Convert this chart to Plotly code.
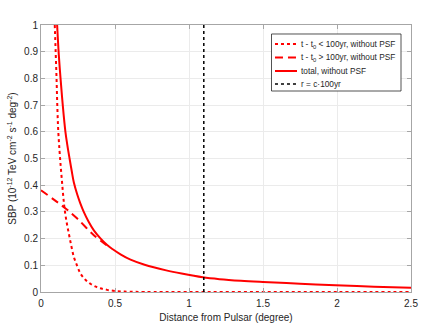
import plotly.graph_objects as go

# ---- Data ----
x_early = [0.093, 0.099, 0.105, 0.110, 0.116, 0.125, 0.134, 0.143, 0.151, 0.159, 0.173, 0.188, 0.205,
           0.222, 0.245, 0.267, 0.300, 0.334, 0.370, 0.400, 0.447, 0.500, 0.550, 0.600, 0.700, 1.0, 1.5, 2.0, 2.5]
y_early = [1.0, 0.90, 0.80, 0.70, 0.61, 0.53, 0.465, 0.406, 0.355, 0.313, 0.262, 0.219, 0.172,
           0.131, 0.097, 0.069, 0.046, 0.031, 0.020, 0.014, 0.008, 0.004, 0.002, 0.001, 0.0, 0.0, 0.0, 0.0, 0.0]

x_late = [0.0, 0.087, 0.166, 0.245, 0.357, 0.458]
y_late = [0.381, 0.346, 0.313, 0.275, 0.213, 0.169]

x_total = [0.109, 0.120, 0.132, 0.147, 0.165, 0.178, 0.193, 0.207, 0.222, 0.245, 0.265, 0.289, 0.320,
           0.357, 0.400, 0.447, 0.485, 0.540, 0.605, 0.700, 0.846, 0.950, 1.093, 1.206, 1.350, 1.500,
           1.750, 1.990, 2.250, 2.500]
y_total = [1.0, 0.89, 0.80, 0.70, 0.60, 0.55, 0.50, 0.455, 0.410, 0.365, 0.333, 0.300, 0.265,
           0.231, 0.202, 0.176, 0.160, 0.140, 0.121, 0.102, 0.081, 0.069, 0.055, 0.048, 0.042, 0.0375,
           0.031, 0.025, 0.020, 0.0163]

r_c100 = 1.1
vline_y = [0, 1]

x_ticks = [0, 0.5, 1, 1.5, 2, 2.5]
x_ticklabels = ["0", "0.5", "1", "1.5", "2", "2.5"]
y_ticks = [0, 0.1, 0.2, 0.3, 0.4, 0.5, 0.6, 0.7, 0.8, 0.9, 1]
y_ticklabels = ["0", "0.1", "0.2", "0.3", "0.4", "0.5", "0.6", "0.7", "0.8", "0.9", "1"]

legend_labels = ["t - t<sub>0</sub> < 100yr, without PSF",
                 "t - t<sub>0</sub> > 100yr, without PSF",
                 "total, without PSF",
                 "r = c·100yr"]

RED = "#ff0000"
FONT = "Liberation Sans, Arial, Helvetica, sans-serif"
styles = [dict(color=RED, width=2, dash="dot"),
          dict(color=RED, width=2, dash="8px,5px"),
          dict(color=RED, width=2),
          dict(color="#000000", width=1.5, dash="dot")]

fig = go.Figure()
fig.add_trace(go.Scatter(x=x_early, y=y_early, mode="lines", name=legend_labels[0],
                         line=dict(shape="spline", smoothing=1, **styles[0]), showlegend=False))
fig.add_trace(go.Scatter(x=x_late, y=y_late, mode="lines", name=legend_labels[1],
                         line=dict(shape="spline", smoothing=1, **styles[1]), showlegend=False))
fig.add_trace(go.Scatter(x=x_total, y=y_total, mode="lines", name=legend_labels[2],
                         line=dict(shape="spline", smoothing=1, **styles[2]), showlegend=False))
fig.add_trace(go.Scatter(x=[r_c100, r_c100], y=vline_y, mode="lines", name=legend_labels[3],
                         line=styles[3], showlegend=False))

axis_common = dict(showline=True, linecolor="#a6a6a6", linewidth=1, mirror="ticks",
                   ticks="inside", ticklen=4, tickcolor="#a6a6a6", automargin=False,
                   showgrid=True, gridcolor="#ebebeb", gridwidth=1, zeroline=False,
                   tickfont=dict(family=FONT, size=10, color="#262626"))

# Custom legend box (paper coordinates)
box_x0, box_x1, box_y0, box_y1 = 0.623, 0.973, 0.7528, 0.9663
row_y = [0.9288, 0.8783, 0.8277, 0.7790]
sample_x0, sample_x1, text_x = 0.6324, 0.6919, 0.6960

shapes = [dict(type="rect", xref="paper", yref="paper", x0=box_x0, x1=box_x1, y0=box_y0, y1=box_y1,
               line=dict(color="#262626", width=0.8), fillcolor="white", layer="above")]
annotations = []
for lab, st, yy in zip(legend_labels, styles, row_y):
    shapes.append(dict(type="line", xref="paper", yref="paper", x0=sample_x0, x1=sample_x1,
                       y0=yy, y1=yy, line=st, layer="above"))
    annotations.append(dict(xref="paper", yref="paper", x=text_x, y=yy, text=lab, showarrow=False,
                            xanchor="left", yanchor="middle",
                            font=dict(family=FONT, size=8.3, color="#262626")))

fig.update_layout(
    width=436, height=327,
    margin=dict(l=41, r=25, t=25, b=35, autoexpand=False),
    paper_bgcolor="white", plot_bgcolor="white",
    font=dict(family=FONT, size=10, color="#262626"),
    xaxis=dict(range=[0, 2.5], tickvals=x_ticks, ticktext=x_ticklabels, ticklabelstandoff=2,
               title=dict(text="Distance from Pulsar (degree)", font=dict(size=10), standoff=5),
               **axis_common),
    yaxis=dict(range=[0, 1], tickvals=y_ticks, ticktext=y_ticklabels,
               title=dict(text="SBP (10<sup>-12</sup> TeV cm<sup>-2</sup> s<sup>-1</sup> deg<sup>-2</sup>)",
                          font=dict(size=10), standoff=5),
               **axis_common),
    showlegend=False,
    shapes=shapes,
    annotations=annotations,
)

fig.write_html("out.html", config={"displayModeBar": False},
               post_script="document.body.style.margin='0';")
